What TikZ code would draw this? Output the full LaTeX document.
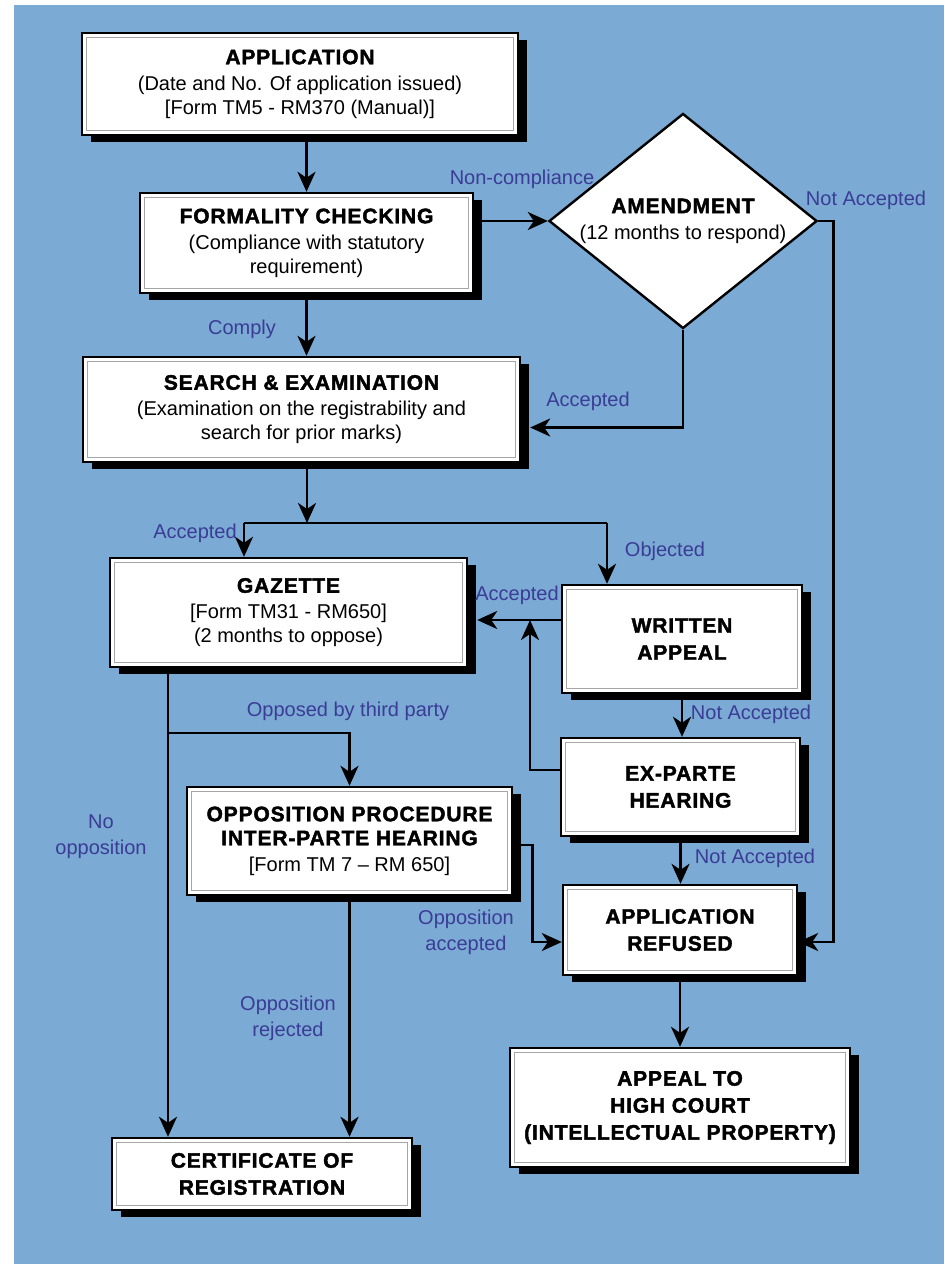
\documentclass[tikz,border=0pt]{standalone}
\usepackage{fontspec}
\setmainfont{Liberation Sans}
\newfontfamily\hd[LetterSpace=4,FakeBold=2]{Liberation Sans Bold}
\usetikzlibrary{arrows.meta,shapes.geometric,shadows}
\definecolor{bgblue}{RGB}{123,170,212}
\definecolor{lblblue}{RGB}{58,60,150}

\begin{document}
\begin{tikzpicture}[x=0.5pt,y=-0.5pt]
\useasboundingbox (0,0) rectangle (944,1267);
\fill[bgblue] (14,5) rectangle (944,1264);

\begin{scope}[every node/.style={rectangle,draw,line width=1.2pt,fill=white,align=center,
font=\fontsize{10}{12}\selectfont,
drop shadow={shadow xshift=4.5pt,shadow yshift=-3.5pt,fill=black,opacity=1}}]
\node[minimum width=218pt,minimum height=51pt] (appl) at (300,84)
  {{\hd\fontsize{10.5}{13.5}\selectfont APPLICATION}\\[1pt]
   (Date and No. Of application issued)\\ {[Form TM5 - RM370 (Manual)]}};
\node[minimum width=166.5pt,minimum height=50pt] (form) at (306.5,243)
  {{\hd\fontsize{10.5}{13.5}\selectfont FORMALITY CHECKING}\\[1pt]
   (Compliance with statutory\\ requirement)};
\node[minimum width=218.5pt,minimum height=52.5pt] (srch) at (301.5,409.5)
  {{\hd\fontsize{10.5}{13.5}\selectfont SEARCH \& EXAMINATION}\\[1pt]
   (Examination on the registrability and\\ search for prior marks)};
\node[minimum width=178.5pt,minimum height=54.5pt] (gaz) at (288.5,612.5)
  {{\hd\fontsize{10.5}{13.5}\selectfont GAZETTE}\\[1pt]
   {[Form TM31 - RM650]}\\ (2 months to oppose)};
\node[minimum width=120pt,minimum height=54pt,font=\hd\fontsize{10.5}{13.5}\selectfont] (wrt) at (682,639)
  {WRITTEN\\ APPEAL};
\node[minimum width=119.5pt,minimum height=49pt,font=\hd\fontsize{10.5}{13.5}\selectfont] (expt) at (680.5,787)
  {EX-PARTE\\ HEARING};
\node[minimum width=117pt,minimum height=45pt,font=\hd\fontsize{10.5}{13.5}\selectfont] (refu) at (680,930)
  {APPLICATION\\ REFUSED};
\node[minimum width=170pt,minimum height=59.5pt,font=\hd\fontsize{10.5}{13.5}\selectfont] (appeal) at (680,1107.5)
  {APPEAL TO\\ HIGH COURT\\ (INTELLECTUAL PROPERTY)};
\node[minimum width=162.5pt,minimum height=54pt] (oppo) at (349.5,841)
  {{\hd\fontsize{10.5}{13.5}\selectfont OPPOSITION PROCEDURE}\\
   {\hd\fontsize{10.5}{13.5}\selectfont INTER-PARTE HEARING}\\[1pt]
   {[Form TM 7 -- RM 650]}};
\node[minimum width=150pt,minimum height=36pt,font=\hd\fontsize{10.5}{13.5}\selectfont] (cert) at (262,1174)
  {CERTIFICATE OF\\ REGISTRATION};
\end{scope}

% inner grey frame of each box
\foreach \n in {appl,form,srch,gaz,wrt,expt,refu,appeal,oppo,cert}
  \draw[gray!70,line width=0.6pt] ([shift={(3pt,3pt)}]\n.south west) rectangle ([shift={(-3pt,-3pt)}]\n.north east);

\node[diamond,draw,line width=1.2pt,fill=white,aspect=1.25,inner sep=0pt,
  minimum width=134pt,minimum height=107.5pt,align=center,
  font=\fontsize{10}{12}\selectfont] (dia) at (683,221)
  {{\hd\fontsize{10.5}{13.5}\selectfont AMENDMENT}\\[1pt] (12 months to respond)};

\coordinate (jn) at (307,523);
\coordinate (jl) at (244,523);
\coordinate (jr) at (607,523);
\coordinate (ja) at (530,620);
\coordinate (jb) at (530,770);
\coordinate (gl) at (168,733);

\begin{scope}[>={Stealth[length=10pt,width=9pt,inset=3pt]},line width=1.4pt]
\draw[->] (form.north |- appl.south) -- (form.north);
\draw[->] (form.east |- dia.west) -- (dia.west);
\draw[->] (form.south) -- (form.south |- srch.north);
\draw[->] (dia.south) |- ([xshift=4.5pt,yshift=-9pt]srch.east);
\draw[->] (dia.east) -- ++(7.5pt,0) |- ([yshift=-6pt]refu.east);
\draw[->] (jn |- srch.south) -- (jn);
\draw (jl) -- (jr);
\draw[->] (jl) -- (jl |- gaz.north);
\draw[->] (jr) -- (jr |- wrt.north);
\draw[->,shorten >=4.5pt] (wrt.west |- ja) -- (gaz.east |- ja);
\draw[->] (expt.west |- jb) -- (jb) -- (ja);
\draw[->] (wrt.south) -- (wrt.south |- expt.north);
\draw[->] (expt.south) -- (expt.south |- refu.north);
\draw[->] (refu.south) -- (refu.south |- appeal.north);
\draw[->] (gl |- gaz.south) -- (gl |- cert.north);
\draw[->] (gl) -| (oppo.north);
\draw[->] (oppo.south) -- (oppo.south |- cert.north);
\draw[->] ([yshift=-2pt]oppo.east) -- ++(9.5pt,0) |- ([yshift=-6pt]refu.west);
\end{scope}

\begin{scope}[every node/.style={text=lblblue,font=\fontsize{10}{13}\selectfont,align=center,inner sep=0pt}]
\node (lnc) at (522,179) {Non-compliance};
\node (lna1) at (866,200) {Not Accepted};
\node (lcmp) at (242,329) {Comply};
\node (lacc1) at (588,401) {Accepted};
\node (lacc2) at (195,533) {Accepted};
\node (lobj) at (665,551) {Objected};
\node (lacc3) at (517,595) {Accepted};
\node (lna2) at (751,714) {Not Accepted};
\node (lna3) at (755,858) {Not Accepted};
\node (lopp) at (348,711) {Opposed by third party};
\node (lnoop) at (101,837) {No\\ opposition};
\node (lopac) at (466,932) {Opposition\\ accepted};
\node (loprj) at (288,1018) {Opposition\\ rejected};
\end{scope}
\end{tikzpicture}
\end{document}
